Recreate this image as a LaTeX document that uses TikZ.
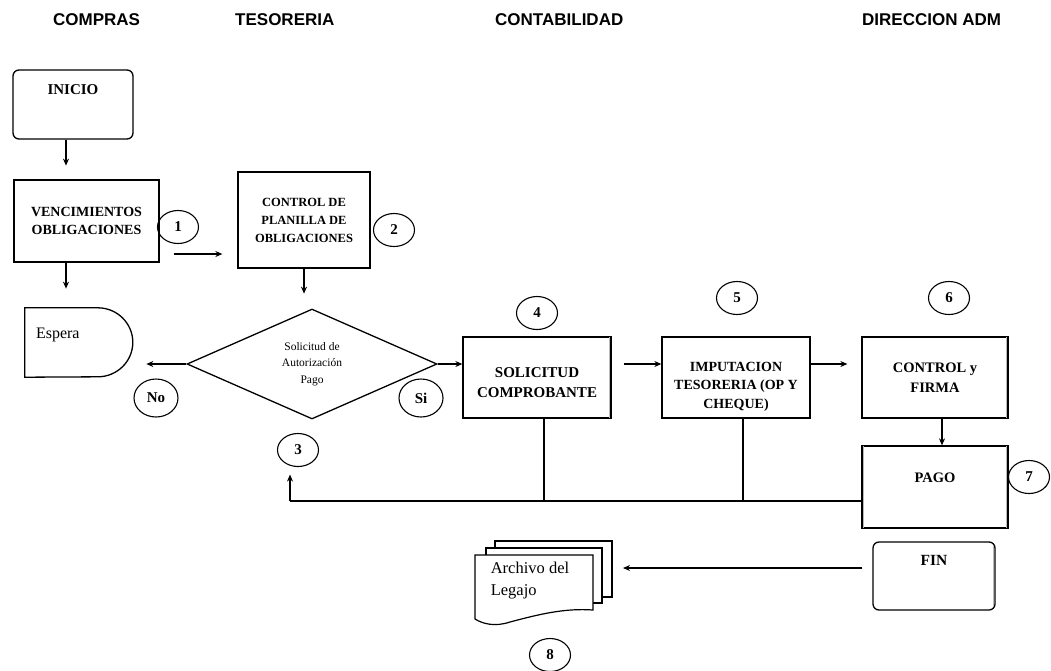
\documentclass[tikz,border=0pt]{standalone}
\usepackage{fontspec}
\setmainfont{Liberation Serif}
\newfontfamily\hdrfont{Liberation Sans}
\usetikzlibrary{shapes.geometric,arrows.meta}
\begin{document}
\begin{tikzpicture}[x=1pt,y=-1pt,
  box/.style={draw, line width=1.3pt, inner sep=0, align=center},
  rbox/.style={box, rounded corners=6pt},
  arr/.style={line width=1.1pt, -{Stealth[length=7pt,width=6pt]}},
  ln/.style={line width=1.1pt},
  num/.style={draw, ellipse, line width=1.1pt, inner sep=0, minimum width=41pt, minimum height=33pt, font=\bfseries\fontsize{15}{15}\selectfont},
  hdr/.style={anchor=base west, inner sep=0, font=\hdrfont\bfseries\fontsize{17}{17}\selectfont},
  bt/.style={font=\bfseries\fontsize{14}{19}\selectfont, align=center},
  shade/.style={draw=gray!55, line width=1.6pt}
]
\useasboundingbox (0,0) rectangle (1051,670);
% headers
\node[hdr] (h1) at (53,25) {COMPRAS};
\node[hdr] (h2) at (235,25) {TESORERIA};
\node[hdr] (h3) at (495,25) {CONTABILIDAD};
\node[hdr] (h4) at (862,25) {DIRECCION ADM};
% boxes
\node[rbox, minimum width=120pt, minimum height=69pt,
  label={[yshift=14.5pt, bt, font=\bfseries\fontsize{15}{15}\selectfont]center:INICIO}] (inicio) at (73,104.5) {};
\node[box, minimum width=145pt, minimum height=82pt, font=\bfseries\fontsize{14}{18}\selectfont] (venc) at (86.5,221) {VENCIMIENTOS\\OBLIGACIONES};
\node[box, minimum width=132pt, minimum height=96pt, font=\bfseries\fontsize{12.5}{18}\selectfont] (ctrl) at (304,220) {CONTROL DE\\PLANILLA DE\\OBLIGACIONES};
\node[draw, diamond, line width=1.3pt, inner sep=0, minimum width=250pt, minimum height=110pt, align=center, font=\fontsize{11.5}{16.5}\selectfont] (dia) at (312,364) {Solicitud de\\Autorización\\Pago};
\node[box, minimum width=148pt, minimum height=81pt,
  label={[yshift=-5.5pt, bt, font=\bfseries\fontsize{15}{20}\selectfont]center:SOLICITUD\\COMPROBANTE}] (sol) at (537,377.5) {};
\node[box, minimum width=148pt, minimum height=81pt,
  label={[yshift=-9pt, bt, font=\bfseries\fontsize{14}{18.5}\selectfont]center:IMPUTACION\\TESORERIA (OP Y\\CHEQUE)}] (imp) at (736,377.5) {};
\node[box, minimum width=146pt, minimum height=81pt, font=\bfseries\fontsize{14.5}{20}\selectfont] (cyf) at (935,377.5) {CONTROL y\\FIRMA};
\node[box, minimum width=146pt, minimum height=82pt,
  label={[yshift=9pt, bt, font=\bfseries\fontsize{14.5}{15}\selectfont]center:PAGO}] (pago) at (935,487) {};
\node[rbox, minimum width=122pt, minimum height=68pt,
  label={[yshift=16pt, bt, font=\bfseries\fontsize{15.5}{15}\selectfont]center:FIN}] (fin) at (934,576) {};
% scan shading on box edges
\draw[shade] ([xshift=-2.2pt,yshift=-1pt]sol.north east) -- ([xshift=-2.2pt,yshift=1pt]sol.south east);
\draw[shade] ([xshift=-2.2pt,yshift=-1pt]cyf.north east) -- ([xshift=-2.2pt,yshift=1pt]cyf.south east);
\draw[shade] ([xshift=-2.2pt,yshift=-1pt]pago.north east) -- ([xshift=-2.2pt,yshift=1pt]pago.south east);
\draw[shade] ([xshift=2.2pt,yshift=-1pt]pago.north west) -- ([xshift=2.2pt,yshift=1pt]pago.south west);
\draw[shade] ([xshift=-2.2pt,yshift=-5pt]fin.north east) -- ([xshift=-2.2pt,yshift=5pt]fin.south east);
% espera (delay shape)
\node[minimum width=108pt, minimum height=69pt, inner sep=0,
  label={[anchor=west, xshift=11pt, yshift=7.5pt, inner sep=0, font=\fontsize{16}{16}\selectfont]west:Espera}] (espera) at (79,342.5) {};
\draw[line width=1.3pt] (espera.north west) -- ++(73pt,0) arc[start angle=90, end angle=-90, x radius=35pt, y radius=34.5pt] -- (espera.south west) -- cycle;
% archivo (multi document)
\draw[line width=1.2pt, fill=white] (495,541) rectangle (612,597);
\draw[line width=1.2pt, fill=white] (486,548) rectangle (602,603);
\draw[line width=1.2pt, fill=white] (475,555) -- (593,555) -- (593,610)
  .. controls (565,608) and (540,614) .. (510,622)
  .. controls (495,627) and (483,624) .. (475,619) -- cycle;
\node[align=left, inner sep=0, font=\fontsize{16.5}{22}\selectfont] (arch) at (530,581) {Archivo del\\Legajo};
% numbered circles
\node[num] (c1) at (178,227) {1};
\node[num] (c2) at (394,230) {2};
\node[num] (c3) at (298,450) {3};
\node[num] (c4) at (537,313) {4};
\node[num] (c5) at (737,298) {5};
\node[num] (c6) at (949,298) {6};
\node[num] (c7) at (1029,477) {7};
\node[num] (c8) at (550,655) {8};
\node[num, minimum width=44pt, minimum height=38pt] (no) at (156,398) {No};
\node[num, minimum width=44pt, minimum height=38pt] (si) at (421,398) {Si};
% connectors
\draw[arr] ([xshift=-7pt]inicio.south) -- ++(0,26);
\draw[arr] ([xshift=-20.5pt]venc.south) -- ++(0,26);
\draw[arr] ([xshift=14pt,yshift=-33pt]venc.east) -- ([xshift=-15pt,yshift=-34pt]ctrl.west);
\draw[arr] (ctrl.south) -- ++(0,25);
\draw[arr] (dia.west) -- ++(-40,0);
\draw[arr] (dia.east) -- (sol.west |- dia.east);
\draw[arr] ([xshift=12pt]sol.east |- dia.east) -- (imp.west |- dia.east);
\draw[arr] (imp.east |- dia.east) -- ([xshift=-14pt]cyf.west |- dia.east);
\draw[arr] ([xshift=7pt]cyf.south) -- ([xshift=7pt]pago.north);
\coordinate (ret) at (290,501);
\draw[ln] ([yshift=-14pt]pago.west) -- (ret);
\draw[arr] (ret) -- ([xshift=-8pt,yshift=-7.5pt]c3.south);
\draw[ln] ([xshift=7pt]sol.south) -- ([xshift=7pt]sol.south |- ret);
\draw[ln] ([xshift=7pt]imp.south) -- ([xshift=7pt]imp.south |- ret);
\coordinate (a8) at (623,568);
\draw[arr] ([xshift=-10pt,yshift=8pt]fin.west) -- (a8);
\end{tikzpicture}
\end{document}
